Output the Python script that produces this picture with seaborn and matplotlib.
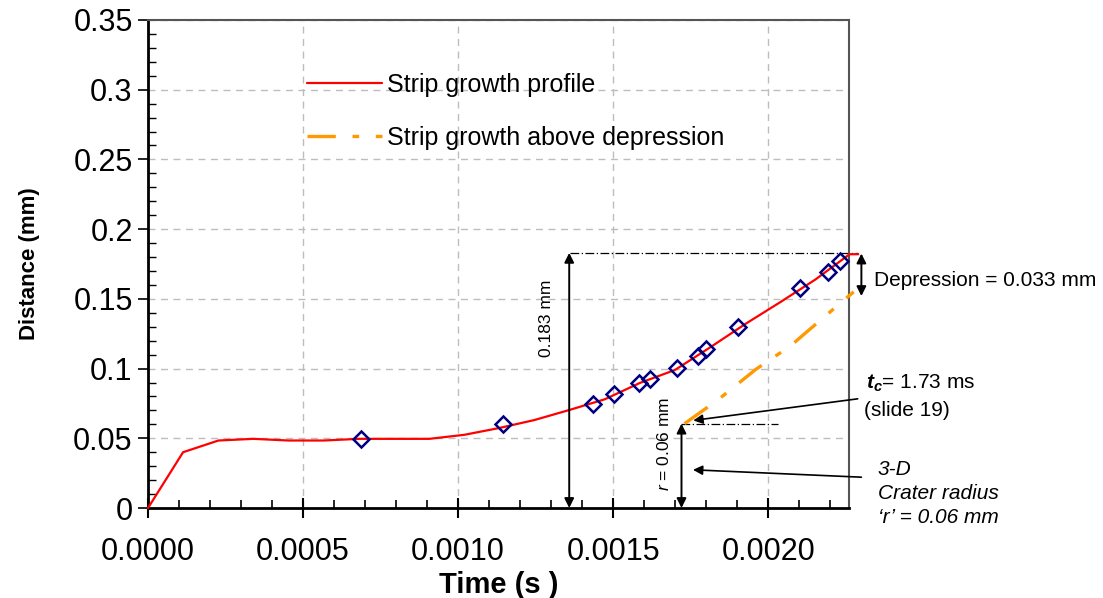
import numpy as np
import pandas as pd
import seaborn as sns
import matplotlib.pyplot as plt
from matplotlib.ticker import MultipleLocator, FormatStrFormatter, FuncFormatter

# strip growth profile (red line), sampled per camera frame
profile_t = [0.0, 0.000113, 0.000227, 0.00034, 0.000453, 0.000567, 0.00068, 0.000793,
             0.000907, 0.00102, 0.001133, 0.001246, 0.00136, 0.001473, 0.001586,
             0.001699, 0.001813, 0.001926, 0.002039, 0.002152, 0.002262, 0.00229]
profile_d = [0.0, 0.040, 0.0484, 0.0496, 0.0484, 0.0484, 0.0496, 0.0496,
             0.0496, 0.0525, 0.0574, 0.0631, 0.0704, 0.078, 0.0897,
             0.099, 0.1153, 0.132, 0.1477, 0.1639, 0.182, 0.182]

# measured points (blue diamonds)
meas_t = [0.000687, 0.001144, 0.001434, 0.001504, 0.001583, 0.00162, 0.001704,
          0.001773, 0.0018, 0.001903, 0.002101, 0.002193, 0.00223]
meas_d = [0.0498, 0.0604, 0.0747, 0.0814, 0.0893, 0.0924, 0.1003,
          0.1092, 0.1137, 0.1295, 0.1579, 0.1691, 0.1775]

# strip growth above depression (orange dash-dot)
above_t = [0.00173, 0.00184, 0.00196, 0.00207, 0.00218, 0.002275]
above_d = [0.0605, 0.078, 0.0995, 0.116, 0.137, 0.155]

y_ticks = [0, 0.05, 0.1, 0.15, 0.2, 0.25, 0.3, 0.35]
x_ticks = [0.0, 0.0005, 0.0010, 0.0015, 0.0020]

sns.set_style("white")
plt.rcParams['font.family'] = ['Liberation Sans', 'DejaVu Sans']
plt.rcParams['text.color'] = 'black'
plt.rcParams['axes.labelcolor'] = 'black'
plt.rcParams['xtick.color'] = 'black'
plt.rcParams['ytick.color'] = 'black'
plt.rcParams['mathtext.fontset'] = 'custom'
plt.rcParams['mathtext.rm'] = 'Liberation Sans'
plt.rcParams['mathtext.it'] = 'Liberation Sans:italic'
plt.rcParams['mathtext.bf'] = 'Liberation Sans:bold'
plt.rcParams['mathtext.bfit'] = 'Liberation Sans:bold:italic'

fig = plt.figure(figsize=(11.03, 5.98), dpi=100)
ax = fig.add_axes([0.1342, 0.1505, 0.6355, 0.8161])

df_prof = pd.DataFrame({'t': profile_t, 'd': profile_d})
df_meas = pd.DataFrame({'t': meas_t, 'd': meas_d})
df_above = pd.DataFrame({'t': above_t, 'd': above_d})

sns.lineplot(data=df_prof, x='t', y='d', ax=ax, color='red', lw=1.6,
             sort=False, estimator=None, clip_on=False, zorder=3)
sns.lineplot(data=df_above, x='t', y='d', ax=ax, color='#ff9900', lw=2.4,
             sort=False, estimator=None, clip_on=False, zorder=3)
red_line = ax.lines[0]
orange_line = ax.lines[1]
orange_line.set_dashes((8.5, 5, 2, 5))
ax.plot(df_meas['t'], df_meas['d'], ls='none', marker='D', ms=8, mfc='none',
        mec='#000080', mew=1.8, zorder=4)

ax.set_xlim(0, 0.00226)
ax.set_ylim(0, 0.35)
ax.set_xticks(x_ticks)
ax.set_yticks(y_ticks)
ax.xaxis.set_minor_locator(MultipleLocator(0.0001))
ax.yaxis.set_minor_locator(MultipleLocator(0.01))
ax.xaxis.set_major_formatter(FormatStrFormatter('%.4f'))
ax.yaxis.set_major_formatter(FuncFormatter(lambda v, p: f'{v:g}'))

ax.grid(True, which='major', color='#bdbdbd', ls=(0, (5, 4)), lw=1)
ax.set_axisbelow(True)
for s in ['left', 'bottom']:
    ax.spines[s].set_color('black')
    ax.spines[s].set_linewidth(2)
for s in ['top', 'right']:
    ax.spines[s].set_color('#555555')
    ax.spines[s].set_linewidth(1.5)

ax.tick_params(axis='y', which='major', direction='out', length=7, width=1.2,
               labelsize=22, pad=4, left=True)
ax.tick_params(axis='y', which='minor', direction='in', length=6, width=1, left=True)
ax.tick_params(axis='x', which='major', direction='inout', length=14, width=1.5,
               labelsize=22, pad=14, bottom=True)
ax.tick_params(axis='x', which='minor', direction='in', length=6, width=1.2, bottom=True)

ax.set_xlabel('Time (s )', fontsize=21, fontweight='bold', labelpad=3)
ax.set_ylabel('Distance (mm)', fontsize=16, fontweight='bold', labelpad=24)

leg = ax.legend([red_line, orange_line], ['Strip growth profile', 'Strip growth above depression'],
                loc='upper left', bbox_to_anchor=(307 / 1103, 1 - 73 / 598),
                bbox_transform=fig.transFigure, frameon=False, fontsize=18,
                handlelength=3.0, handletextpad=0.2, labelspacing=1.15, borderpad=0,
                borderaxespad=0)

# dimension annotations
dash_dot = (0, (7, 2, 1, 2))
ax.plot([0.00136, 0.00229], [0.183, 0.183], color='black', lw=0.9, ls=dash_dot, clip_on=False)
ax.plot([0.00172, 0.00203], [0.0605, 0.0605], color='black', lw=0.9, ls=dash_dot)

arrow2 = dict(arrowstyle='<|-|>', color='black', lw=1.4, mutation_scale=14,
              shrinkA=0, shrinkB=0)
arrow1 = dict(arrowstyle='-|>', color='black', lw=1.2, mutation_scale=14,
              shrinkA=0, shrinkB=0)
ax.annotate('', xy=(0.001358, 0.0), xytext=(0.001358, 0.183), arrowprops=arrow2)
ax.annotate('', xy=(0.00172, 0.0), xytext=(0.00172, 0.0605), arrowprops=arrow2)
ax.annotate('', xy=(0.0023, 0.152), xytext=(0.0023, 0.1825), arrowprops=arrow2,
            annotation_clip=False)
ax.annotate('', xy=(0.001758, 0.0628), xytext=(0.002288, 0.0783), arrowprops=arrow1,
            annotation_clip=False)
ax.annotate('', xy=(0.001757, 0.0274), xytext=(0.0023, 0.0221), arrowprops=arrow1,
            annotation_clip=False)

ax.text(0.001284, 0.136, '0.183 mm', rotation=90, ha='center', va='center', fontsize=12.5)
ax.text(0.001665, 0.046, '$r$ = 0.06 mm', rotation=90, ha='center', va='center', fontsize=12.5)
ax.text(0.002342, 0.163, 'Depression = 0.033 mm', ha='left', va='center', fontsize=15,
        clip_on=False)
ax.text(0.002316, 0.0893, r'$\mathbfit{t}_{\mathbfit{c}}$= 1.73 ms', ha='left', va='center',
        fontsize=15, clip_on=False)
ax.text(0.002307, 0.070, '(slide 19)', ha='left', va='center', fontsize=15, clip_on=False)
ax.text(0.002352, 0.0104, '3-D\nCrater radius\n\u2018r\u2019 = 0.06 mm', ha='left',
        va='center', fontsize=15, style='italic', linespacing=1.35, clip_on=False)

fig.savefig('out.png', dpi=100)
